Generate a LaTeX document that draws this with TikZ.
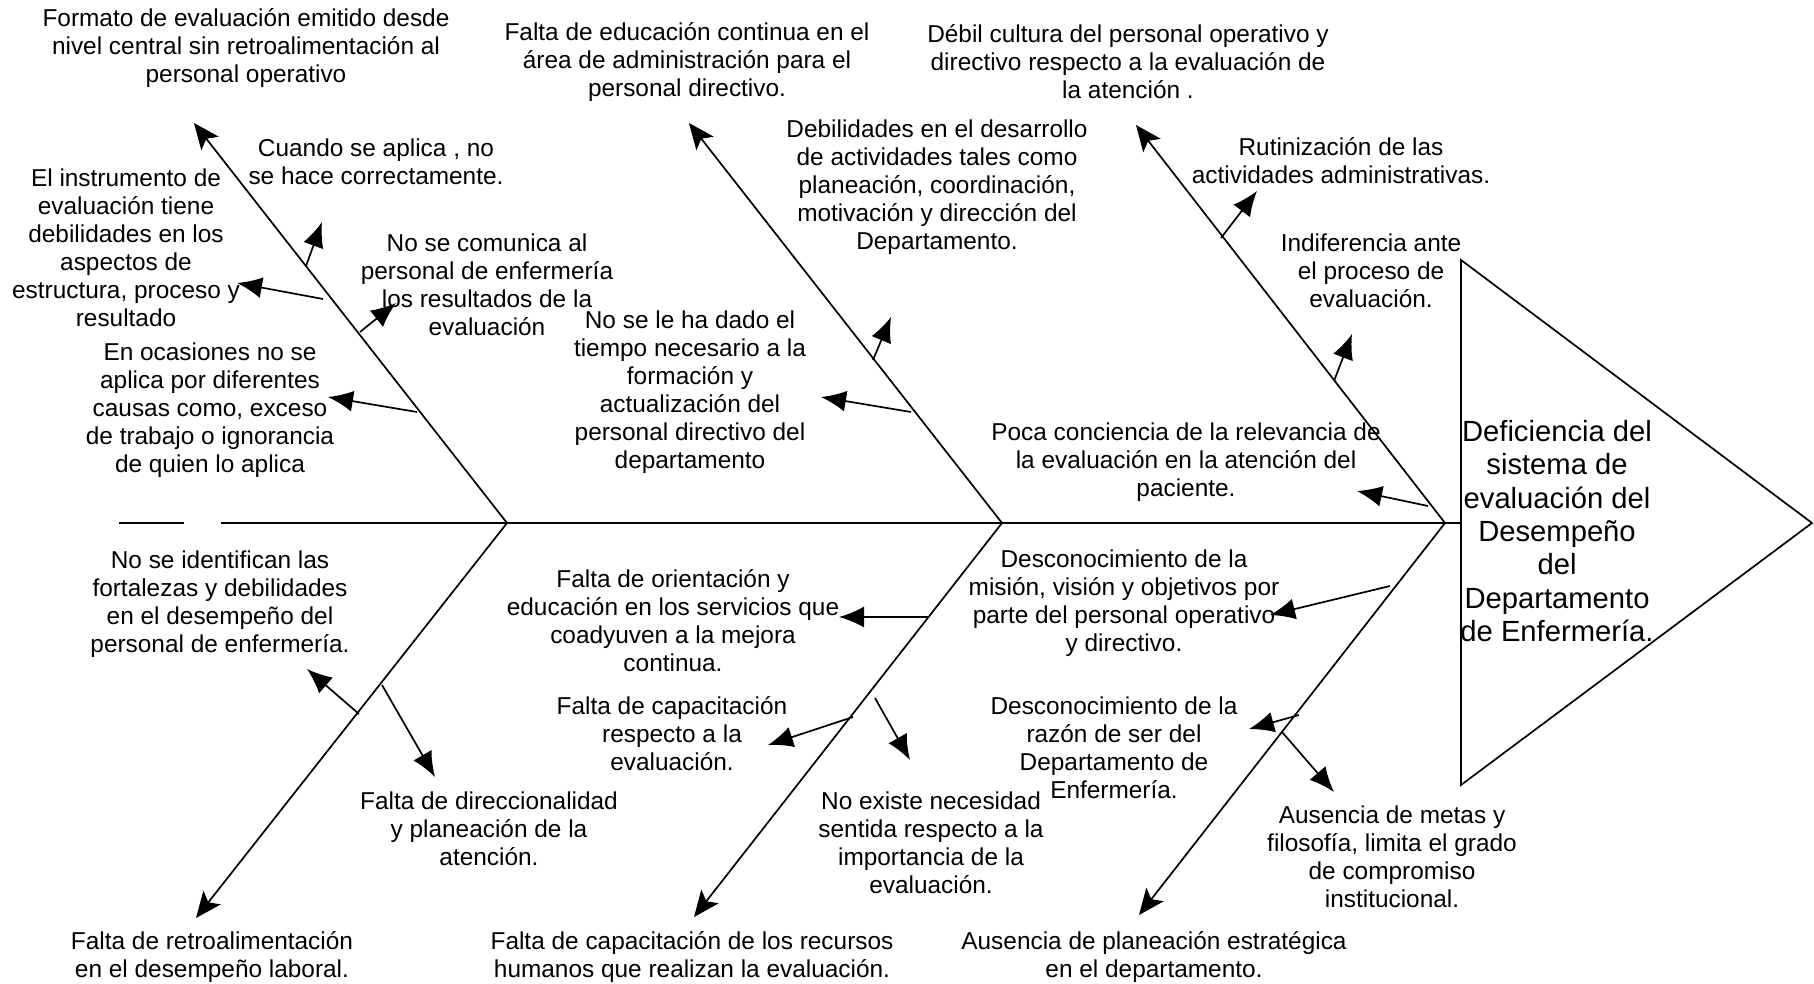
\documentclass[tikz,border=0pt]{standalone}
\usepackage{fontspec}
\setmainfont{Liberation Sans}
\usetikzlibrary{arrows.meta}
\begin{document}
\begin{tikzpicture}[x=0.5pt,y=-0.5pt,
  lbl/.style={align=center,inner sep=0pt,font=\fontsize{12.2}{14}\selectfont},
  ttl/.style={align=center,inner sep=0pt,font=\fontsize{14.6}{16.7}\selectfont},
  bone/.style={line width=0.85pt,-{Stealth[length=13pt,width=11pt,inset=3pt]}},
  sub/.style={line width=0.85pt,-{Latex[length=12.5pt,width=10.5pt]}},
  spine/.style={line width=0.85pt}]
\useasboundingbox (0,0) rectangle (1814,984);

% head (effect)
\coordinate (h1) at (1461,260);
\coordinate (h2) at (1812,523);
\coordinate (h3) at (1461,785);
\draw[spine] (h1) -- (h2) -- (h3) -- cycle;
\node[ttl] (effect) at (1557,531) {Deficiencia del\\sistema de\\evaluación del\\Desempeño\\del\\Departamento\\de Enfermería.};

% spine
\coordinate (s0) at (119,523);
\coordinate (s1) at (184,523);
\coordinate (s2) at (221,523);
\coordinate (sE) at (1461,523);
\draw[spine] (s0) -- (s1);
\draw[spine] (s2) -- (sE);

% junctions and bone tips
\coordinate (j1) at (507,523);
\coordinate (j2) at (1002,523);
\coordinate (j3) at (1445,523);
\coordinate (u1) at (194,123);
\coordinate (u2) at (689,123);
\coordinate (u3) at (1136,125);
\coordinate (d1) at (196,918);
\coordinate (d2) at (694,917);
\coordinate (d3) at (1139,915);
\draw[bone] (j1) -- (u1);
\draw[bone] (j2) -- (u2);
\draw[bone] (j3) -- (u3);
\draw[bone] (j1) -- (d1);
\draw[bone] (j2) -- (d2);
\draw[bone] (j3) -- (d3);

% labels
\node[lbl] (t1) at (246,48) {Formato de evaluación emitido desde\\nivel central sin retroalimentación al\\personal operativo};
\node[lbl] (t2) at (687,62) {Falta de educación continua en el\\área de administración para el\\personal directivo.};
\node[lbl] (t3) at (1128,62) {Débil cultura del personal operativo y\\directivo respecto a la evaluación de\\la atención .};
\node[lbl] (t4) at (376,162) {Cuando se aplica , no\\se hace correctamente.};
\node[lbl] (t5) at (126,248) {El instrumento de\\evaluación tiene\\debilidades en los\\aspectos de\\estructura, proceso y\\resultado};
\node[lbl] (t6) at (487,285) {No se comunica al\\personal de enfermería\\los resultados de la\\evaluación};
\node[lbl] (t7) at (210,410) {En ocasiones no se\\aplica por diferentes\\causas como, exceso\\de trabajo o ignorancia\\de quien lo aplica};
\node[lbl] (t8) at (937,187) {Debilidades en el desarrollo\\de actividades tales como\\planeación, coordinación,\\motivación y dirección del\\Departamento.};
\node[lbl] (t9) at (690,392) {No se le ha dado el\\tiempo necesario a la\\formación y\\actualización del\\personal directivo del\\departamento};
\node[lbl] (t10) at (1341,161) {Rutinización de las\\actividades administrativas.};
\node[lbl] (t11) at (1371,271) {Indiferencia ante\\el proceso de\\evaluación.};
\node[lbl] (t12) at (1186,462) {Poca conciencia de la relevancia de\\la evaluación en la atención del\\paciente.};
\node[lbl] (t13) at (220,604) {No se identifican las\\fortalezas y debilidades\\en el desempeño del\\personal de enfermería.};
\node[lbl] (t14) at (489,829) {Falta de direccionalidad\\y planeación de la\\atención.};
\node[lbl] (t15) at (212,957) {Falta de retroalimentación\\en el desempeño laboral.};
\node[lbl] (t16) at (673,621) {Falta de orientación y\\educación en los servicios que\\coadyuven a la mejora\\continua.};
\node[lbl] (t17) at (672,734) {Falta de capacitación\\respecto a la\\evaluación.};
\node[lbl] (t18) at (931,843) {No existe necesidad\\sentida respecto a la\\importancia de la\\evaluación.};
\node[lbl] (t19) at (692,957) {Falta de capacitación de los recursos\\humanos que realizan la evaluación.};
\node[lbl] (t20) at (1124,603) {Desconocimiento de la\\misión, visión y objetivos por\\parte del personal operativo\\y directivo.};
\node[lbl] (t21) at (1114,748) {Desconocimiento de la\\razón de ser del\\Departamento de\\Enfermería.};
\node[lbl] (t22) at (1392,857) {Ausencia de metas y\\filosofía, limita el grado\\de compromiso\\institucional.};
\node[lbl] (t23) at (1154,957) {Ausencia de planeación estratégica\\en el departamento.};

% sub-cause arrows
\coordinate (aS) at (306,266);  \coordinate (aE) at (322,222);
\coordinate (bS) at (323,299);  \coordinate (bE) at (237,283);
\coordinate (cS) at (360,332);  \coordinate (cE) at (396,303);
\coordinate (dS) at (417,412);  \coordinate (dE) at (328,397);
\coordinate (eS) at (873,360);  \coordinate (eE) at (891,317);
\coordinate (fS) at (911,412);  \coordinate (fE) at (821,397);
\coordinate (gS) at (1221,238); \coordinate (gE) at (1257,191);
\coordinate (hS) at (1334,381); \coordinate (hE) at (1352,334);
\coordinate (iS) at (1428,506); \coordinate (iE) at (1357,491);
\coordinate (jS) at (359,714);  \coordinate (jE) at (307,669);
\coordinate (kS) at (382,685);  \coordinate (kE) at (435,777);
\coordinate (lS) at (928,617);  \coordinate (lE) at (839,617);
\coordinate (mS) at (853,717);  \coordinate (mE) at (768,745);
\coordinate (nS) at (875,698);  \coordinate (nE) at (910,760);
\coordinate (oS) at (1390,586); \coordinate (oE) at (1270,615);
\coordinate (pS) at (1299,715); \coordinate (pE) at (1249,729);
\coordinate (qS) at (1282,732); \coordinate (qE) at (1334,792);
\foreach \k in {a,b,c,d,e,f,g,h,i,j,k,l,m,n,o,p,q}
  \draw[sub] (\k S) -- (\k E);
\end{tikzpicture}
\end{document}
